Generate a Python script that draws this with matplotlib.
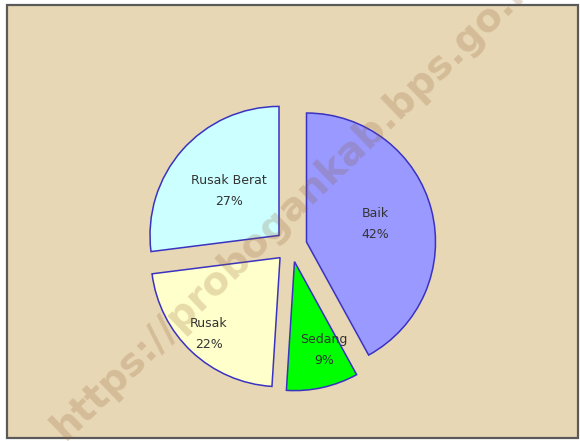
import matplotlib
matplotlib.use("Agg")
from matplotlib import pyplot as plt
from matplotlib.patches import Rectangle
import numpy

# chart data
categories = ["Baik", "Sedang", "Rusak", "Rusak Berat"]
percents = [42, 9, 22, 27]
colors = ["#9999ff", "#00ff00", "#ffffcc", "#ccffff"]
watermark = "https://probogankab.bps.go.id"

W, H = 580, 441
BG = "#e8d7b5"
EDGE = "#3a32c0"
RADIUS = 129

fig = plt.figure(figsize=(W / 100., H / 100.), dpi=100)
fig.patch.set_facecolor("white")
ax = fig.add_axes([0, 0, 1, 1])

# parchment panel with dark frame
ax.add_patch(Rectangle((7, 3), 571, 433, facecolor=BG, edgecolor="#5a5a5a",
                       linewidth=1.6, zorder=0))

# explode is in data units here (1 unit = 1 pixel)
wedges, _ = ax.pie(percents, colors=colors, startangle=90, counterclock=False,
                   center=(291, H - 246), radius=RADIUS,
                   explode=[16] * len(percents),
                   wedgeprops=dict(edgecolor=EDGE, linewidth=1.1))

# labels inside each wedge: distance (fraction of radius) and angle nudge
label_frac = [0.55, 0.72, 0.81, 0.52]
label_nudge = [0, 6, 0, 0]
for w, name, pct, frac, nudge in zip(wedges, categories, percents,
                                     label_frac, label_nudge):
    ang = numpy.deg2rad((w.theta1 + w.theta2) / 2. + nudge)
    cx, cy = w.center
    x = cx + frac * w.r * numpy.cos(ang)
    y = cy + frac * w.r * numpy.sin(ang)
    ax.text(x, y, "{0}\n{1}%".format(name, pct), ha="center", va="center",
            fontsize=9, color="#333333", linespacing=1.8, zorder=5)

ax.text(298, H - 201, watermark, rotation=44, ha="center", va="center",
        rotation_mode="anchor", fontsize=28, fontweight="bold",
        color="#8b5a2b", alpha=0.22, zorder=10)

ax.set_xlim(0, W)
ax.set_ylim(0, H)
ax.set_aspect("auto")
ax.axis("off")

fig.savefig("out.png", dpi=100, facecolor=fig.get_facecolor())
